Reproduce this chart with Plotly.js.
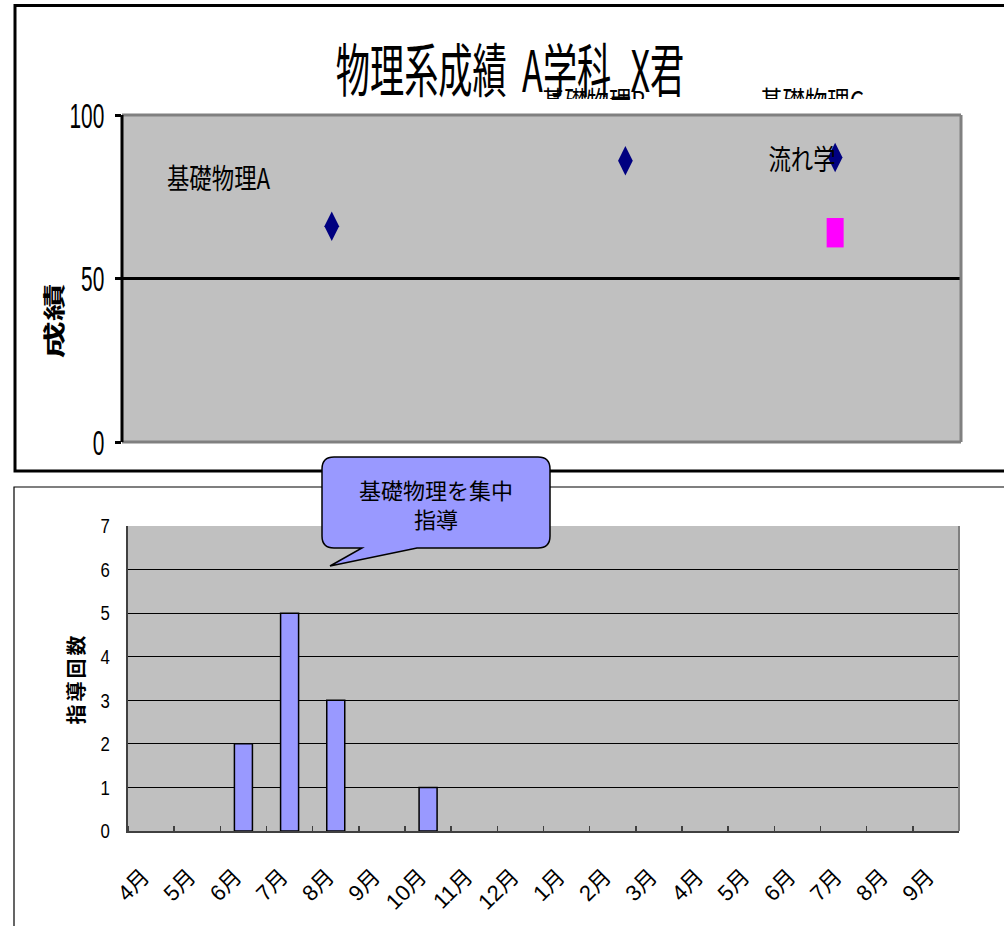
<!DOCTYPE html>
<html>
<head>
<meta charset="utf-8">
<script src="https://cdn.plot.ly/plotly-3.0.1.min.js"></script>
<style>
  html, body { margin: 0; padding: 0; background: #fff; }
  #chart { width: 1004px; height: 926px; }
  /* narrow Gothic look for the chart texts */
  .gtitle,
  .annotation .annotation-text,
  .textpoint text {
    transform-box: fill-box;
    transform-origin: center;
  }
  .ytick text,
  .y2tick text {
    transform-box: fill-box;
    transform-origin: right center;
  }
  .gtitle { scale: 0.59 1; }
  .annotation[data-index="0"] .annotation-text,
  .annotation[data-index="1"] .annotation-text,
  .textpoint text { scale: 0.8 1; }
  .annotation[data-index="2"] .annotation-text { scale: 1.7 1; }
  .ytick text { scale: 0.58 1; }
  .y2tick text { scale: 0.8 1; }
  .g-y2title text { letter-spacing: 3px; }
</style>
</head>
<body>
<div id="chart"></div>
<script>
// ---- score chart (物理系成績) ----
const examTerm = [5, 12, 17];          // position on the term axis
const examScore = [66, 86, 87];        // 成績 (diamonds)
const retakeTerm = [17];
const retakeScore = [64];              // 成績 (magenta mark)
const labelText = ['基礎物理A', '流れ学'];
const labelTerm = [2.3, 16.2];
const labelScore = [81, 87];
const hiddenLabelText = ['基礎物理B', '基礎物理C'];
const hiddenLabelTerm = [11.25, 16.45];
const scoreTicks = [0, 50, 100];

// ---- guidance count chart (指導回数) ----
const months = ['4月', '5月', '6月', '7月', '8月', '9月', '10月', '11月', '12月',
                '1月', '2月', '3月', '4月', '5月', '6月', '7月', '8月', '9月'];
const sessions = [0, 0, 2, 5, 3, 0, 1, 0, 0, 0, 0, 0, 0, 0, 0, 0, 0, 0];

const W = 1004, H = 926;
const px = x => x / W;
const py = y => 1 - y / H;

const CJK = '"Noto Sans CJK JP", "Noto Sans", sans-serif';
const SANS = '"Liberation Sans", "Noto Sans CJK JP", sans-serif';

const monthIdx = months.map((_, i) => i);
const boundaries = months.map((_, i) => i - 0.5).concat([months.length - 0.5]);

const traces = [
  {
    type: 'scatter', mode: 'markers', x: examTerm, y: examScore,
    xaxis: 'x', yaxis: 'y', cliponaxis: false,
    marker: { symbol: 'diamond-tall', size: 21, color: '#000080', line: { width: 0 } },
    hoverinfo: 'skip'
  },
  {
    type: 'scatter', mode: 'markers', x: retakeTerm, y: retakeScore,
    xaxis: 'x', yaxis: 'y', cliponaxis: false,
    marker: { symbol: 'line-ns', size: 21, color: '#FF00FF', line: { width: 17, color: '#FF00FF' } },
    hoverinfo: 'skip'
  },
  {
    // labels that sit behind the title band; only their upper part shows
    type: 'scatter', mode: 'text', x: hiddenLabelTerm, y: [-0.1, -0.1],
    text: hiddenLabelText, textposition: 'middle center',
    textfont: { family: CJK, size: 28, color: '#000' },
    xaxis: 'x3', yaxis: 'y3', cliponaxis: true, hoverinfo: 'skip'
  },
  {
    type: 'bar', x: monthIdx, y: sessions, xaxis: 'x2', yaxis: 'y2',
    marker: { color: '#9999FF', line: { color: '#000', width: sessions.map(v => (v > 0 ? 1.5 : 0)) } },
    hoverinfo: 'skip'
  }
];

// rounded callout with a tail, in pixel space converted to paper space
function calloutPath() {
  const p = (x, y) => px(x).toFixed(5) + ',' + py(y).toFixed(5);
  const l = 322, r = 550, t = 457, b = 548, k = 12;
  return 'M' + p(l + k, t) + ' L' + p(r - k, t) + ' Q' + p(r, t) + ' ' + p(r, t + k) +
         ' L' + p(r, b - k) + ' Q' + p(r, b) + ' ' + p(r - k, b) +
         ' L' + p(417, b) + ' L' + p(330, 566) + ' L' + p(362, b) +
         ' L' + p(l + k, b) + ' Q' + p(l, b) + ' ' + p(l, b - k) +
         ' L' + p(l, t + k) + ' Q' + p(l, t) + ' ' + p(l + k, t) + ' Z';
}

const layout = {
  width: W, height: H, autosize: false,
  margin: { l: 0, r: 0, t: 0, b: 0 },
  paper_bgcolor: '#fff', plot_bgcolor: 'rgba(0,0,0,0)',
  showlegend: false,
  title: {
    text: '物理系成績\u00a0 A学科_X君',
    x: px(510), xanchor: 'center', xref: 'paper',
    y: py(72), yanchor: 'middle', yref: 'paper',
    font: { family: CJK, size: 58, color: '#000' }
  },
  xaxis: {
    domain: [px(122), px(961)], range: [0, 20],
    showgrid: false, zeroline: false, showticklabels: false, ticks: '', showline: false
  },
  yaxis: {
    domain: [py(442), py(115)], range: [0, 100],
    tickmode: 'array', tickvals: scoreTicks,
    ticks: 'outside', ticklen: 6, tickwidth: 3, tickcolor: '#000',
    ticklabelstandoff: 6,
    tickfont: { family: SANS, size: 36, color: '#000' },
    showgrid: true, gridcolor: '#000', gridwidth: 3,
    zeroline: false, showline: false
  },
  xaxis3: {
    domain: [px(122), px(961)], range: [0, 20], anchor: 'y3',
    showgrid: false, zeroline: false, showticklabels: false, ticks: '', visible: false
  },
  yaxis3: {
    domain: [py(99), py(40)], range: [0, 1], anchor: 'x3',
    showgrid: false, zeroline: false, showticklabels: false, ticks: '', visible: false
  },
  xaxis2: {
    domain: [px(128), px(959)], range: [-0.5, months.length - 0.5], anchor: 'y2',
    tickmode: 'array', tickvals: monthIdx, ticktext: months,
    ticks: '', tickangle: -45, ticklabelstandoff: 22, ticklabelshift: -8,
    tickfont: { family: SANS, size: 22, color: '#000' },
    minor: { tickmode: 'array', tickvals: boundaries, ticks: 'inside', ticklen: 5,
             tickwidth: 1.5, tickcolor: '#404040', showgrid: false },
    showgrid: false, zeroline: false,
    showline: true, linecolor: '#404040', linewidth: 2
  },
  yaxis2: {
    domain: [py(831), py(526)], range: [0, 7], anchor: 'x2',
    tickmode: 'linear', tick0: 0, dtick: 1,
    ticks: '', ticklabelstandoff: 15,
    tickfont: { family: SANS, size: 21, color: '#000' },
    showgrid: true, gridcolor: '#000', gridwidth: 1,
    zeroline: false, showline: true, linecolor: '#404040', linewidth: 2,
    title: { text: '指導回数', standoff: 10, font: { family: CJK, size: 20, weight: 700, color: '#000' } }
  },
  bargap: 0.61,
  shapes: [
    // outer frames
    { type: 'rect', xref: 'paper', yref: 'paper', x0: px(15), x1: 1.02, y0: py(471), y1: py(5.5),
      line: { color: '#000', width: 3 }, layer: 'below' },
    { type: 'rect', xref: 'paper', yref: 'paper', x0: px(14), x1: 1.02, y0: -0.05, y1: py(487),
      line: { color: '#000', width: 1.2 }, layer: 'below' },
    // score plot area
    { type: 'rect', xref: 'x domain', yref: 'y domain', x0: 0, x1: 1, y0: 0, y1: 1,
      fillcolor: '#C0C0C0', line: { width: 0 }, layer: 'below' },
    { type: 'line', xref: 'x domain', yref: 'y domain', x0: 0, x1: 1, y0: 1, y1: 1,
      line: { color: '#808080', width: 3 }, layer: 'above' },
    { type: 'line', xref: 'x domain', yref: 'y domain', x0: 1, x1: 1, y0: 0, y1: 1,
      line: { color: '#808080', width: 3 }, layer: 'above' },
    { type: 'line', xref: 'x domain', yref: 'y domain', x0: 0, x1: 1, y0: 0, y1: 0,
      line: { color: '#808080', width: 3 }, layer: 'above' },
    { type: 'line', xref: 'x domain', yref: 'y domain', x0: 0, x1: 0, y0: 0, y1: 1,
      line: { color: '#000', width: 3 }, layer: 'above' },
    // guidance plot area
    { type: 'rect', xref: 'x2 domain', yref: 'y2 domain', x0: 0, x1: 1, y0: 0, y1: 1,
      fillcolor: '#C0C0C0', line: { width: 0 }, layer: 'below' },
    { type: 'line', xref: 'x2 domain', yref: 'y2 domain', x0: 1, x1: 1, y0: 0, y1: 1,
      line: { color: '#808080', width: 2 }, layer: 'above' },
    // callout balloon
    { type: 'path', xref: 'paper', yref: 'paper', path: calloutPath(),
      fillcolor: '#9999FF', line: { color: '#000', width: 1.5 }, layer: 'above' }
  ],
  annotations: [
    { text: labelText[0], x: labelTerm[0], y: labelScore[0], xref: 'x', yref: 'y',
      xanchor: 'center', yanchor: 'middle',
      showarrow: false, font: { family: CJK, size: 28, color: '#000' } },
    { text: labelText[1], x: labelTerm[1], y: labelScore[1], xref: 'x', yref: 'y',
      xanchor: 'center', yanchor: 'middle',
      showarrow: false, font: { family: CJK, size: 28, color: '#000' } },
    { text: '成績', x: px(52), y: py(321), xref: 'paper', yref: 'paper', textangle: -90,
      xanchor: 'center', yanchor: 'middle',
      showarrow: false, font: { family: CJK, size: 22, weight: 700, color: '#000' } },
    { text: '基礎物理を集中<br>指導', x: px(436), y: py(503), xref: 'paper', yref: 'paper',
      xanchor: 'center', yanchor: 'middle',
      showarrow: false, align: 'center', font: { family: CJK, size: 22, color: '#000' } }
  ]
};

Plotly.newPlot('chart', traces, layout, { displayModeBar: false, staticPlot: true });
</script>
</body>
</html>
